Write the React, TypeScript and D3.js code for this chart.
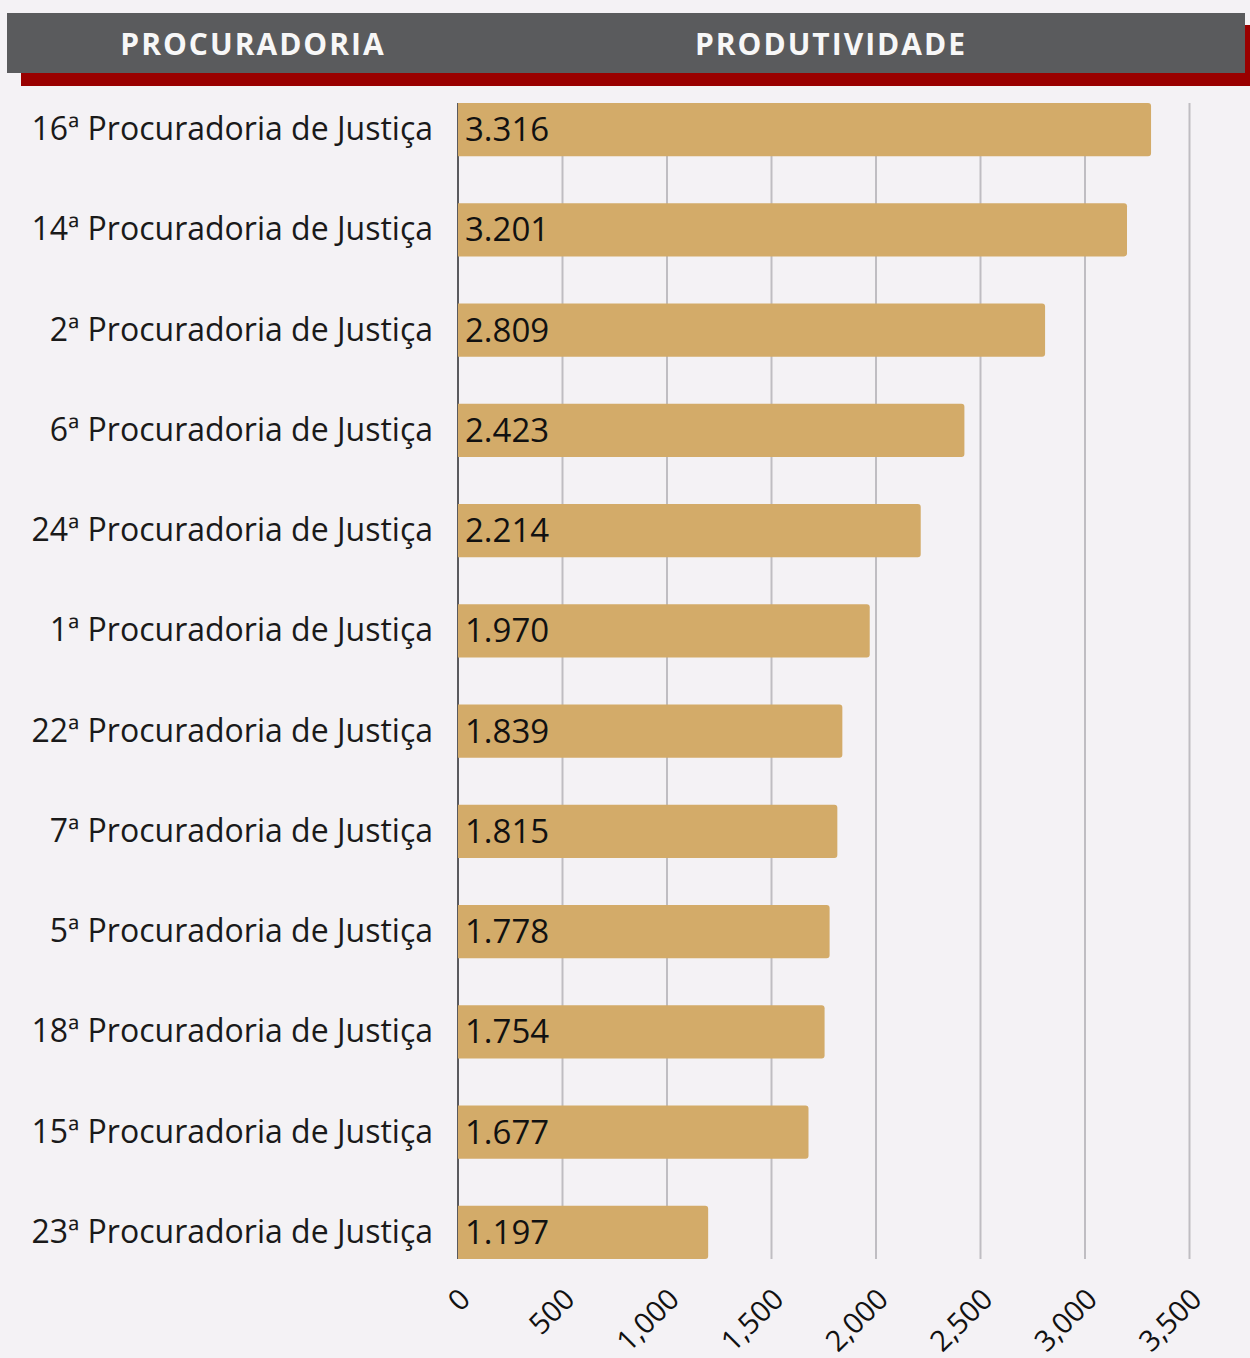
import React from "react";
import * as d3 from "d3";

const categories = [
  "16ª Procuradoria de Justiça",
  "14ª Procuradoria de Justiça",
  "2ª Procuradoria de Justiça",
  "6ª Procuradoria de Justiça",
  "24ª Procuradoria de Justiça",
  "1ª Procuradoria de Justiça",
  "22ª Procuradoria de Justiça",
  "7ª Procuradoria de Justiça",
  "5ª Procuradoria de Justiça",
  "18ª Procuradoria de Justiça",
  "15ª Procuradoria de Justiça",
  "23ª Procuradoria de Justiça",
];
const values = [3316, 3201, 2809, 2423, 2214, 1970, 1839, 1815, 1778, 1754, 1677, 1197];
const ticks = [0, 500, 1000, 1500, 2000, 2500, 3000, 3500];
const headers = ["PROCURADORIA", "PRODUTIVIDADE"];

const W = 1250;
const H = 1358;
const FONT = "'Open Sans', 'Noto Sans', sans-serif";

export default function App() {
  const x = d3.scaleLinear().domain([0, 3500]).range([458, 1189.5]);
  const y = d3.scaleBand<string>().domain(categories).range([103, 1259]).paddingInner(0.47).paddingOuter(0);
  const bw = y.bandwidth();
  const valFmt = (v: number) => d3.format(",")(v).replace(/,/g, ".");
  const tickFmt = d3.format(",");
  const r = 3;

  const barPath = (v: number, top: number) => {
    const x0 = x(0);
    const x1 = x(v);
    const p = d3.path();
    p.moveTo(x0, top);
    p.lineTo(x1 - r, top);
    p.arcTo(x1, top, x1, top + r, r);
    p.lineTo(x1, top + bw - r);
    p.arcTo(x1, top + bw, x1 - r, top + bw, r);
    p.lineTo(x0, top + bw);
    p.closePath();
    return p.toString();
  };

  return (
    <svg
      width={W}
      height={H}
      style={{ position: "absolute", left: 0, top: 0, display: "block" }}
      fontFamily={FONT}
    >
      <rect x={0} y={0} width={W} height={H} fill="#f4f2f5" />
      {/* header */}
      <rect x={21} y={25} width={W - 21} height={61} fill="#990000" />
      <rect x={7} y={13} width={1238} height={60} fill="#5a5b5d" />
      <text x={253} y={55} textAnchor="middle" fill="#f7f7f7" fontWeight={700} fontSize={30} letterSpacing={2}>
        {headers[0]}
      </text>
      <text x={831} y={55} textAnchor="middle" fill="#f7f7f7" fontWeight={700} fontSize={30} letterSpacing={2}>
        {headers[1]}
      </text>

      {/* grid */}
      {ticks.slice(1).map((t) => (
        <line key={t} x1={x(t)} x2={x(t)} y1={103} y2={1259} stroke="#bfbdc2" strokeWidth={2} />
      ))}
      <line x1={x(0)} x2={x(0)} y1={103} y2={1259} stroke="#5a5a5e" strokeWidth={2} />

      {/* bars */}
      {categories.map((c, i) => {
        const top = y(c)!;
        return (
          <g key={c}>
            <path d={barPath(values[i], top)} fill="#d3ab69" />
            <text x={465} y={top + bw / 2} dy="0.35em" fontSize={33} fill="#111">
              {valFmt(values[i])}
            </text>
            <text x={433} y={top + bw / 2} dy="0.33em" textAnchor="end" fontSize={32} fill="#1a1a1a">
              {c}
            </text>
          </g>
        );
      })}

      {/* x tick labels */}
      {ticks.map((t) => (
        <text
          key={t}
          transform={`translate(${x(t) + 14},${1301}) rotate(-45)`}
          textAnchor="end"
          fontSize={29}
          fill="#111"
        >
          {tickFmt(t)}
        </text>
      ))}
    </svg>
  );
}
